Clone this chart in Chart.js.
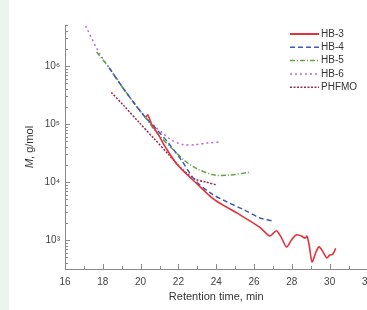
<!DOCTYPE html>
<html>
<head>
<meta charset="utf-8">
<script src="https://cdn.jsdelivr.net/npm/chart.js"></script>
<style>
	html, body { margin: 0; padding: 0; background: #ffffff; overflow: hidden; }
	#strip { position: absolute; left: 0; top: 0; width: 9px; height: 310px; background: #eaf5ef; }
	#wrap { position: absolute; left: 0; top: 0; width: 380px; height: 310px; }
</style>
</head>
<body>
<div id="wrap"><canvas id="myChart" width="380" height="310"></canvas></div>
<div id="strip"></div>
<script>
// data: retention time (min) and molar mass (g/mol)
const hb3Time = [20.27, 20.38, 20.58, 20.95, 21.31, 21.99, 22.88, 23.92, 25.11, 26.31, 26.83, 27.04, 27.2, 27.46, 27.72, 27.98, 28.24, 28.5, 28.71, 28.8, 28.92, 29.07, 29.28, 29.44, 29.65, 29.85, 30.01, 30.17, 30.32];
const hb3M = [132000, 143000, 100000, 65000, 40000, 19000, 10000, 4900, 2900, 1650, 1170, 1330, 1440, 1080, 760, 1000, 1230, 1170, 1080, 1170, 810, 420, 620, 760, 620, 490, 550, 570, 720];

const hb4Time = [18.34, 19.02, 20.06, 20.79, 21.47, 22.15, 22.88, 23.71, 24.59, 25.48, 26.31, 27.04];
const hb4M = [930000, 440000, 155000, 85000, 47000, 24000, 10700, 6400, 4500, 3300, 2400, 2100];

const hb5Time = [17.67, 18.34, 19.02, 20.06, 20.95, 21.73, 22.35, 23.03, 23.92, 24.75, 25.79];
const hb5M = [1740000, 930000, 440000, 155000, 65000, 36000, 23000, 16600, 13200, 13200, 14800];

const hb6Time = [17.09, 17.82, 18.34, 19.02, 20.06, 20.79, 21.21, 21.63, 22.25, 22.88, 23.55, 24.23];
const hb6M = [4900000, 1660000, 930000, 440000, 155000, 89000, 68000, 53000, 44000, 44000, 47000, 49000];

const phfmoTime = [18.45, 19.13, 19.9, 20.69, 21.47, 22.25, 22.88, 23.45, 24.02];
const phfmoM = [350000, 204000, 108000, 57000, 30000, 16000, 11200, 10000, 8900];

const seriesNames = ["HB-3", "HB-4", "HB-5", "HB-6", "PHFMO"];
const xTicks = [16, 18, 20, 22, 24, 26, 28, 30, 32];
const yTicks = [1000, 10000, 100000, 1000000];
const yTickLabels = ["10\u00b3", "10\u2074", "10\u2075", "10\u2076"];

const colors = ["#e2323b", "#3b5cb5", "#62a544", "#b46ad8", "#9a2a4c"];
const dashes = [[], [5, 3], [5, 2, 1, 2], [2, 3], [2, 1.5]];

function pts(t, m) {
	return t.map((v, i) => ({ x: v, y: m[i] }));
}

const allData = [
	pts(hb3Time, hb3M),
	pts(hb4Time, hb4M),
	pts(hb5Time, hb5M),
	pts(hb6Time, hb6M),
	pts(phfmoTime, phfmoM)
];

const font = "'Liberation Sans', Arial, sans-serif";
const axisColor = "#8a8a8a";

// inward ticks, y title and legend
const extras = {
	id: 'extras',
	afterDraw(chart) {
		const ctx = chart.ctx;
		const xs = chart.scales.x, ys = chart.scales.y;
		const a = chart.chartArea;
		ctx.save();
		ctx.strokeStyle = axisColor;
		ctx.lineWidth = 1;
		ctx.beginPath();
		for (let v = 16; v <= 32; v++) {
			const px = Math.round(xs.getPixelForValue(v)) + 0.5;
			const len = v % 2 === 0 ? 5 : 3;
			ctx.moveTo(px, a.bottom);
			ctx.lineTo(px, a.bottom - len);
		}
		for (let e = 2; e <= 6; e++) {
			for (let k = 1; k <= 9; k++) {
				const val = k * Math.pow(10, e);
				if (val < ys.min || val > ys.max) continue;
				const py = Math.round(ys.getPixelForValue(val)) + 0.5;
				const len = k === 1 ? 5 : 3;
				ctx.moveTo(a.left, py);
				ctx.lineTo(a.left + len, py);
			}
		}
		ctx.stroke();

		// y title with italic M
		ctx.translate(30, (a.top + a.bottom) / 2);
		ctx.rotate(-Math.PI / 2);
		ctx.fillStyle = "#333";
		ctx.textBaseline = "middle";
		ctx.font = "italic 11px " + font;
		const wM = ctx.measureText("M").width;
		ctx.font = "11px " + font;
		const rest = ", g/mol";
		const wR = ctx.measureText(rest).width;
		let sx = -(wM + wR) / 2;
		ctx.font = "italic 11px " + font;
		ctx.fillText("M", sx, 0);
		ctx.font = "11px " + font;
		ctx.fillText(rest, sx + wM, 0);
		ctx.setTransform(1, 0, 0, 1, 0, 0);

		// legend
		ctx.font = "10px " + font;
		ctx.textBaseline = "middle";
		seriesNames.forEach((name, i) => {
			const y = 34 + i * 13.3;
			ctx.strokeStyle = colors[i];
			ctx.lineWidth = i === 0 ? 2 : 1.5;
			ctx.setLineDash(dashes[i]);
			ctx.beginPath();
			ctx.moveTo(290, y);
			ctx.lineTo(319, y);
			ctx.stroke();
			ctx.setLineDash([]);
			ctx.fillStyle = "#333";
			ctx.fillText(name, 321, y);
		});
		ctx.restore();
	}
};

new Chart(document.getElementById('myChart'), {
	type: 'line',
	data: {
		datasets: seriesNames.map((name, i) => ({
			label: name,
			data: allData[i],
			borderColor: colors[i],
			borderWidth: i === 0 ? 1.6 : 1.5,
			borderDash: dashes[i],
			pointRadius: 0,
			tension: 0.3,
			fill: false
		}))
	},
	options: {
		responsive: false,
		animation: false,
		layout: { padding: { top: 25, right: 8, left: 0, bottom: 0 } },
		plugins: { legend: { display: false }, tooltip: { enabled: false } },
		scales: {
			x: {
				type: 'linear',
				min: 16,
				max: 32,
				afterBuildTicks: s => { s.ticks = xTicks.map(v => ({ value: v })); },
				afterFit: s => { s.height = 41; },
				ticks: { color: "#444", font: { family: font, size: 10 }, padding: 7, maxRotation: 0 },
				grid: { display: true, drawOnChartArea: false, drawTicks: false },
				border: { display: true, color: axisColor },
				title: { display: true, text: "Retention time, min", color: "#333", font: { family: font, size: 11 }, padding: { top: 0, bottom: 6 } }
			},
			y: {
				type: 'logarithmic',
				min: 316,
				max: 5100000,
				afterBuildTicks: s => { s.ticks = yTicks.map(v => ({ value: v })); },
				afterFit: s => { s.width = 65; },
				ticks: {
					color: "#444",
					font: { family: font, size: 10 },
					padding: 5,
					callback: v => yTickLabels[yTicks.indexOf(v)]
				},
				grid: { display: true, drawOnChartArea: false, drawTicks: false },
				border: { display: true, color: axisColor }
			}
		}
	},
	plugins: [extras]
});
</script>
</body>
</html>
